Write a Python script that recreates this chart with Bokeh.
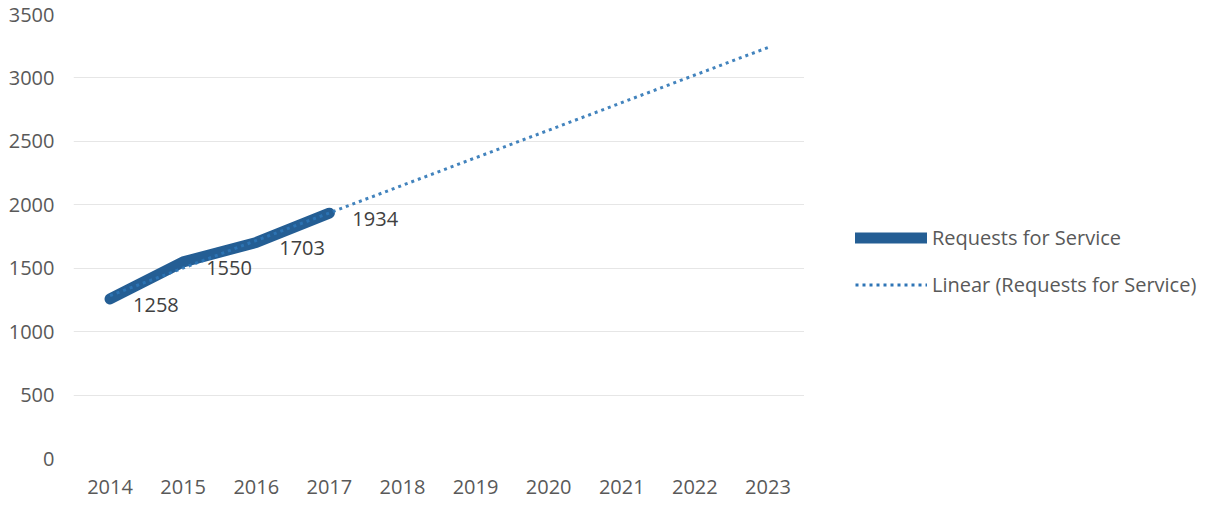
from bokeh.plotting import figure
from bokeh.layouts import row
from bokeh.models import Legend, LegendItem, ColumnDataSource, FixedTicker, Range1d
from bokeh.embed import file_html
from bokeh.resources import INLINE
from bokeh.core.properties import value

years = ["2014", "2015", "2016", "2017", "2018", "2019", "2020", "2021", "2022", "2023"]
actual_years = ["2014", "2015", "2016", "2017"]
requests = [1258, 1550, 1703, 1934]
trend_years = ["2014", "2023"]
trend_values = [1284, 3240]
y_ticks = [0, 500, 1000, 1500, 2000, 2500, 3000, 3500]
series_names = ["Requests for Service", "Linear (Requests for Service)"]

FONT = "Open Sans"
MAIN_COLOR = "#245e94"
TREND_COLOR = "#2e75b6"

p = figure(x_range=years, y_range=(0, 3500), width=804, height=500,
           output_backend="svg", toolbar_location=None,
           min_border_left=73, min_border_right=0, min_border_top=14, min_border_bottom=42)
p.outline_line_color = None
p.background_fill_color = "white"
p.border_fill_color = "white"

p.xgrid.grid_line_color = None
p.ygrid.grid_line_color = "#e6e6e6"
p.ygrid.grid_line_width = 1

p.yaxis.ticker = FixedTicker(ticks=y_ticks)
for ax in (p.xaxis, p.yaxis):
    ax[0].axis_line_color = None
    ax[0].major_tick_line_color = None
    ax[0].minor_tick_line_color = None
    ax[0].major_label_text_font = FONT
    ax[0].major_label_text_font_size = "20px"
    ax[0].major_label_text_color = "#595959"
p.yaxis.major_label_standoff = 13
p.xaxis.major_label_standoff = 15

src = ColumnDataSource(dict(x=actual_years, y=requests, t=[str(v) for v in requests]))
p.line("x", "y", source=src, line_color=MAIN_COLOR, line_width=11,
       line_cap="round", line_join="round")
p.line(trend_years, trend_values, line_color=TREND_COLOR, line_width=3,
       line_dash="3 4", line_alpha=0.9)
p.text("x", "y", text="t", source=src, x_offset=23, y_offset=6,
       text_font=value(FONT), text_font_size="20px", text_color="#404040",
       text_baseline="middle", text_align="left")

# legend panel (dummy glyphs lie outside the visible range)
q = figure(width=401, height=500, output_backend="svg", toolbar_location=None,
           x_range=Range1d(0, 1), y_range=Range1d(0, 1),
           min_border_left=0, min_border_right=0, min_border_top=0, min_border_bottom=0)
q.axis.visible = False
q.grid.visible = False
q.outline_line_color = None
q.border_fill_color = "white"
lm = q.line([5, 6], [5, 6], line_color=MAIN_COLOR, line_width=11, line_cap="round")
lt = q.line([5, 6], [5, 6], line_color=TREND_COLOR, line_width=3, line_dash="3 4")
legend = Legend(items=[LegendItem(label=series_names[0], renderers=[lm]),
                       LegendItem(label=series_names[1], renderers=[lt])],
                location=(51, 160), orientation="vertical",
                label_text_font=FONT, label_text_font_size="20px",
                label_text_color="#595959", glyph_width=72, glyph_height=27,
                label_height=27, spacing=20, padding=0, margin=0,
                label_standoff=5, border_line_color=None,
                background_fill_alpha=0)
q.add_layout(legend, "center")

layout = row(p, q, spacing=0)
open("out.html", "w").write(file_html(layout, INLINE))
